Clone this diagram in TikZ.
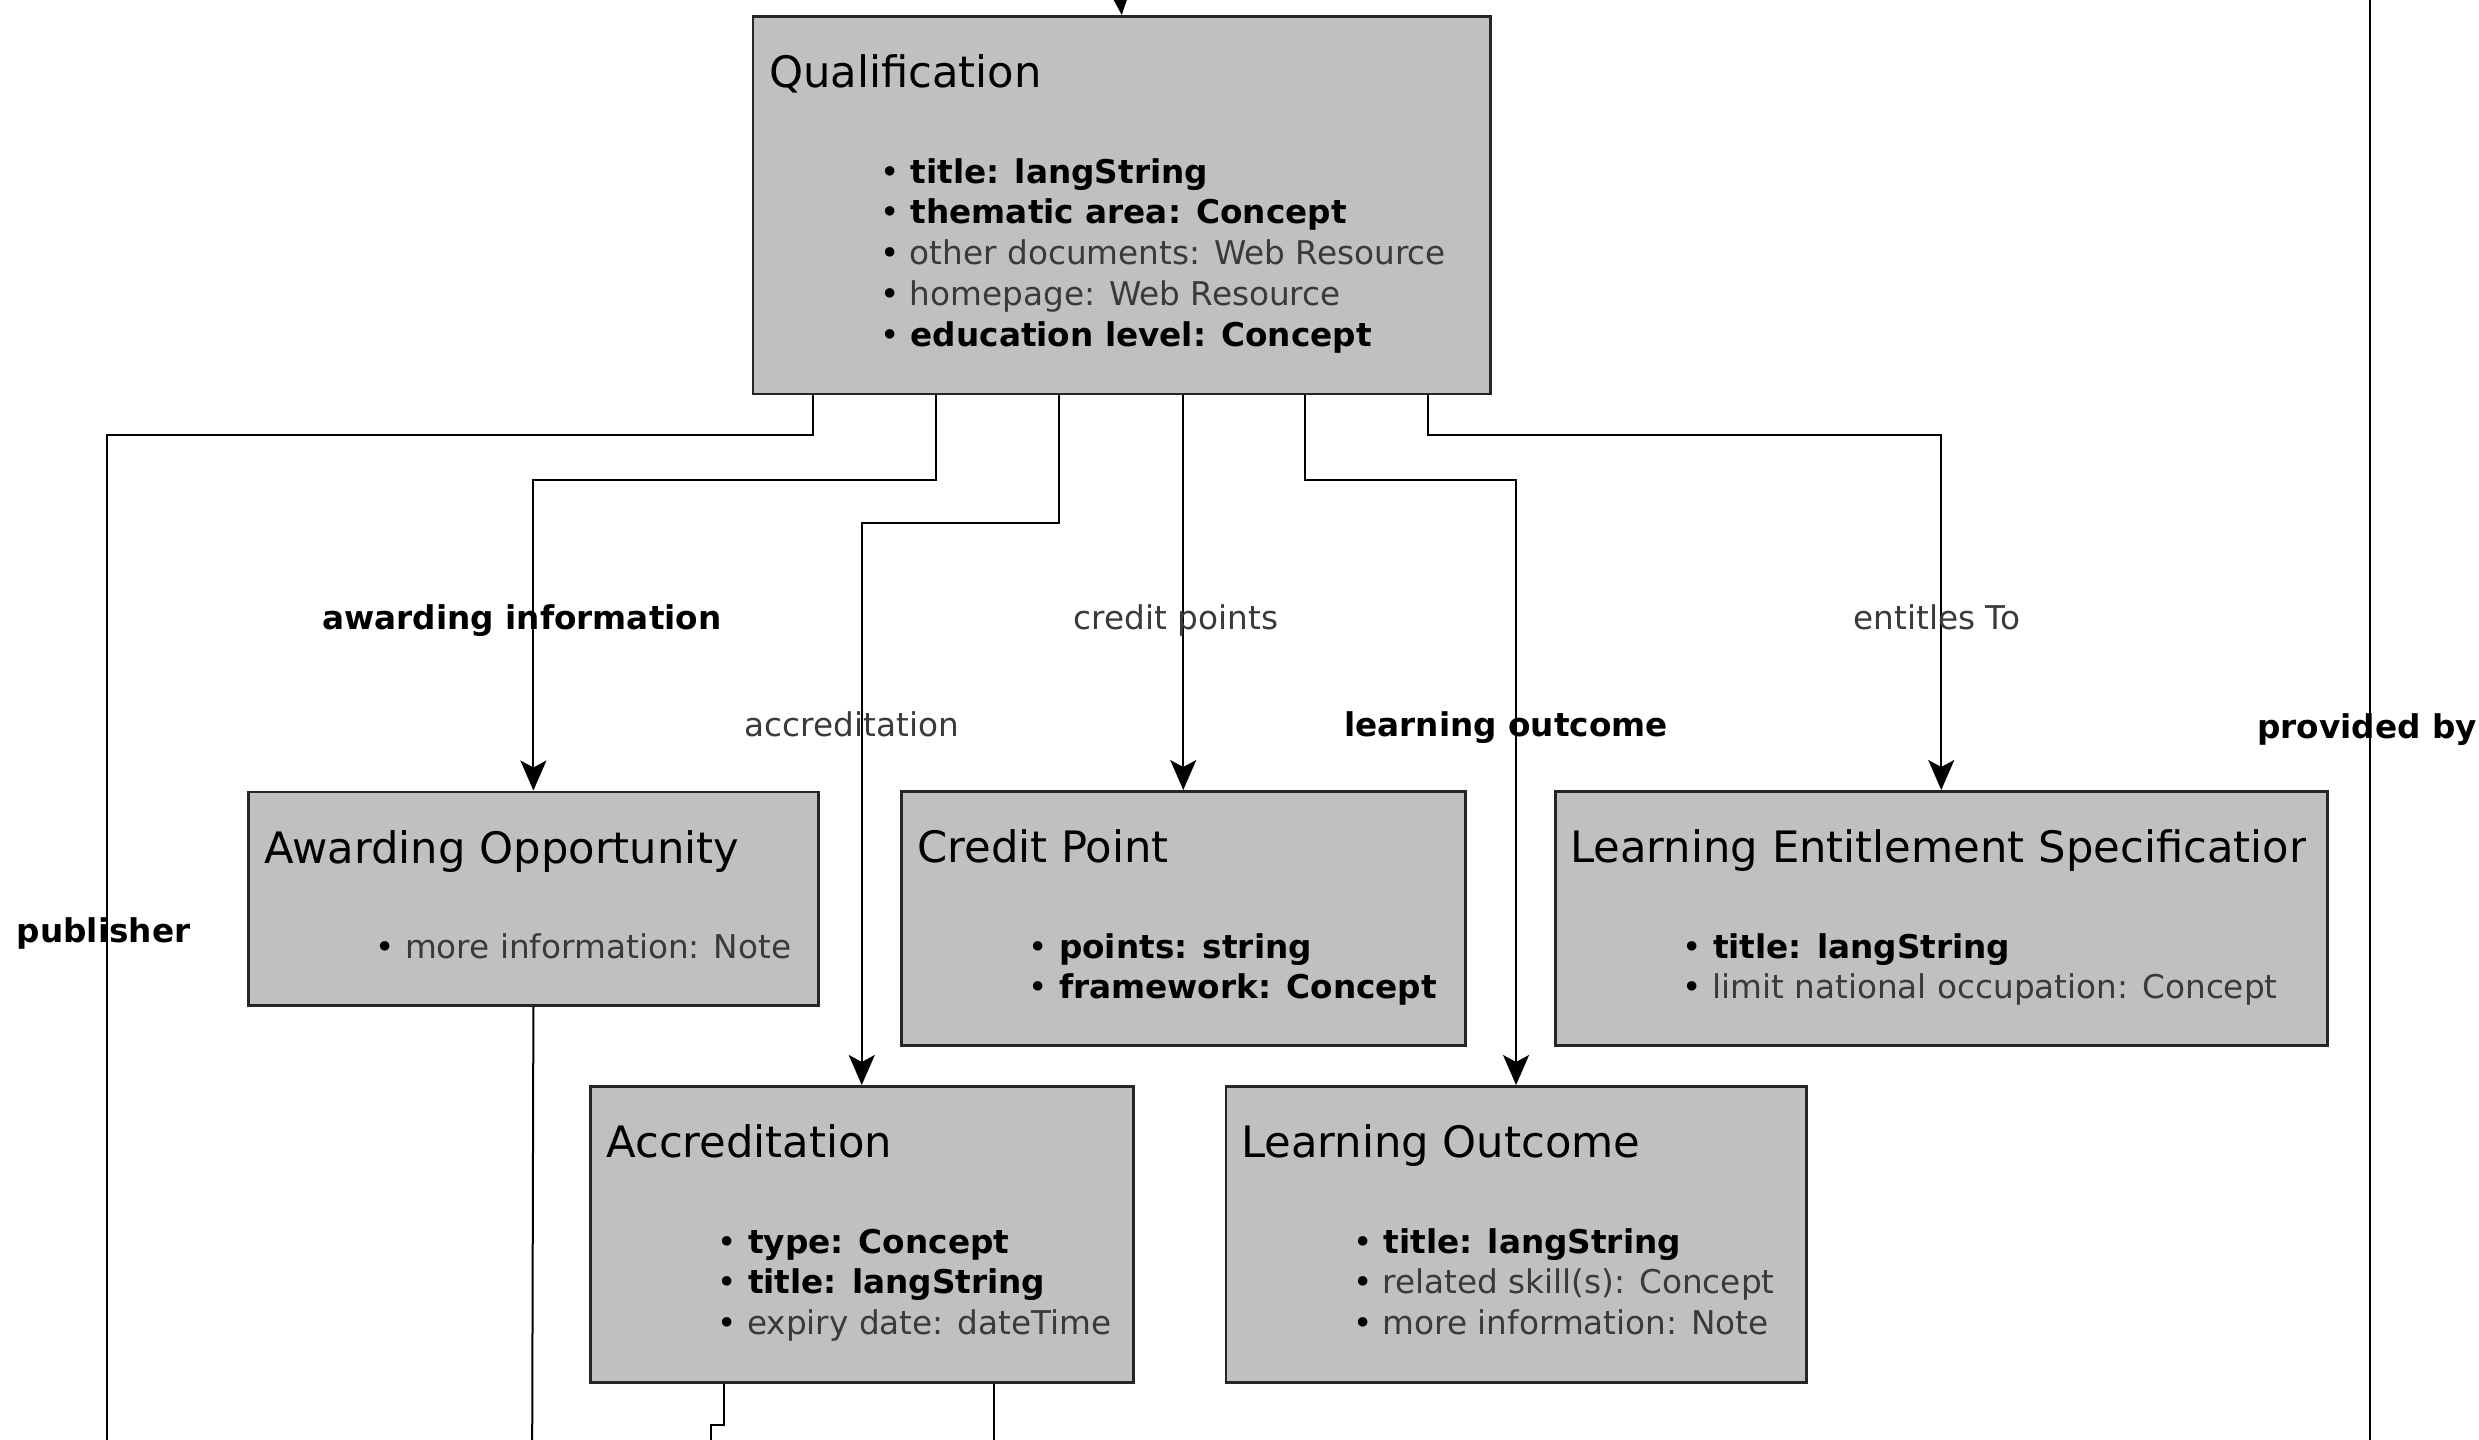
\documentclass[tikz,border=0pt]{standalone}
\usepackage{fontspec}
\setmainfont{DejaVu Sans}
\usetikzlibrary{arrows.meta,calc}
\definecolor{boxfill}{HTML}{C0C0C0}
\definecolor{txtgray}{HTML}{3A3A3A}
\newcommand{\bul}{{\color{black}\mdseries •}\ }
\begin{document}
\begin{tikzpicture}[x=0.5pt,y=-0.5pt,
  box/.style={draw=black!85, line width=1.25pt, fill=boxfill, anchor=north west, inner sep=0pt},
  ttl/.style={anchor=west, inner sep=0pt, font=\fontsize{21.65}{26}\selectfont, text=black, text height=0.76em, text depth=0.24em},
  itm/.style={anchor=west, inner sep=0pt, font=\fontsize{16.35}{20}\selectfont, text=txtgray, text height=0.76em, text depth=0.24em},
  itmb/.style={itm, text=black, font=\fontsize{16.35}{20}\selectfont\bfseries},
  conn/.style={draw=black, line width=1pt},
  arr/.style={conn, -{Stealth[length=15pt,width=13pt,inset=3.5pt]}},
  lbl/.style={inner sep=0pt, font=\fontsize{16.35}{20}\selectfont, text=txtgray, text height=0.76em, text depth=0.24em},
  lblb/.style={lbl, text=black, font=\fontsize{16.35}{20}\selectfont\bfseries},
]
\fill[white] (0,0) rectangle (2479,1440);
\useasboundingbox (0,0) rectangle (2479,1440);

% ---------- boxes ----------
\node[box, minimum width=368.8pt, minimum height=188.85pt] (qual) at (751.7,15) {};
\node[box, minimum width=285.15pt, minimum height=106.75pt] (award) at (247,790.5) {};
\node[box, minimum width=282pt, minimum height=127pt] (credit) at (900,790) {};
\node[box, minimum width=386pt, minimum height=127pt] (les) at (1554,790) {};
\node[box, minimum width=271.5pt, minimum height=148pt] (accred) at (589,1085) {};
\node[box, minimum width=290.2pt, minimum height=148pt] (lo) at (1224.6,1085) {};

% ---------- box texts ----------
\node[ttl] (qualT) at ($(qual.north west)+(17,67.5)$) {Qualification};
\node[itmb] (qual1) at ($(qual.north west)+(128,163)$) {\bul title: langString};
\node[itmb] (qual2) at ($(qual.north west)+(128,203.7)$) {\bul thematic area: Concept};
\node[itm]  (qual3) at ($(qual.north west)+(128,244.4)$) {\bul other documents: Web Resource};
\node[itm]  (qual4) at ($(qual.north west)+(128,285.1)$) {\bul homepage: Web Resource};
\node[itmb] (qual5) at ($(qual.north west)+(128,325.8)$) {\bul education level: Concept};

\node[ttl] (awardT) at ($(award.north west)+(17,67.5)$) {Awarding Opportunity};
\node[itm] (award1) at ($(award.north west)+(128,163)$) {\bul more information: Note};

\node[ttl] (creditT) at ($(credit.north west)+(17,67.5)$) {Credit Point};
\node[itmb] (credit1) at ($(credit.north west)+(128,163)$) {\bul points: string};
\node[itmb] (credit2) at ($(credit.north west)+(128,203.7)$) {\bul framework: Concept};

\begin{scope}
\clip ($(les.north west)+(2,2)$) rectangle ($(les.north west)+(751,120)$);
\node[ttl] (lesT) at ($(les.north west)+(16,67.5)$) {Learning Entitlement Specification};
\end{scope}
\node[itmb] (les1) at ($(les.north west)+(128,163)$) {\bul title: langString};
\node[itm]  (les2) at ($(les.north west)+(128,203.7)$) {\bul limit national occupation: Concept};

\node[ttl] (accredT) at ($(accred.north west)+(17,67.5)$) {Accreditation};
\node[itmb] (accred1) at ($(accred.north west)+(128,163)$) {\bul type: Concept};
\node[itmb] (accred2) at ($(accred.north west)+(128,203.7)$) {\bul title: langString};
\node[itm]  (accred3) at ($(accred.north west)+(128,244.4)$) {\bul expiry date: dateTime};

\node[ttl] (loT) at ($(lo.north west)+(16,67.5)$) {Learning Outcome};
\node[itmb] (lo1) at ($(lo.north west)+(128,163)$) {\bul title: langString};
\node[itm]  (lo2) at ($(lo.north west)+(128,203.7)$) {\bul related skill(s): Concept};
\node[itm]  (lo3) at ($(lo.north west)+(128,244.4)$) {\bul more information: Note};

% ---------- free ends ----------
\coordinate (topIn) at (1120.5,0);
\coordinate (pubEnd) at (107,1440);
\coordinate (pbTop) at (2370,0);
\coordinate (pbBot) at (2370,1440);
\coordinate (awEnd) at (532.2,1440);
\coordinate (acEndA) at (711,1440);
\coordinate (acEndB) at (994,1440);

% ---------- connectors ----------
\draw[arr] (topIn) -- (qual.north);
\draw[conn] ($(qual.south west)+(61.5,0)$) -- ++(0,40) -| (pubEnd);
\draw[arr] ($(qual.south west)+(184.4,0)$) -- ++(0,84.3) -| (award.north);
\draw[arr] ($(qual.south west)+(307.3,0)$) -- ++(0,127.3) -| (accred.north);
\draw[arr] (credit.north |- qual.south) -- (credit.north);
\draw[arr] ($(qual.south west)+(553.2,0)$) -- ++(0,84.3) -| (lo.north);
\draw[arr] ($(qual.south west)+(676.1,0)$) -- ++(0,40) -| (les.north);
\draw[conn] (pbTop) -- (pbBot);
\draw[conn] (award.south) -- (awEnd);
\draw[conn] ($(accred.south west)+(135,0)$) -- ++(0,41) -| (acEndA);
\draw[conn] ($(accred.south west)+(405,0)$) -- (acEndB);

% ---------- connector labels ----------
\node[lblb] (labAw) at (522,624) {awarding information};
\node[lbl]  (labAc) at (852,731) {accreditation};
\node[lbl]  (labCp) at (1176,624) {credit points};
\node[lblb] (labLo) at (1506,731) {learning outcome};
\node[lbl]  (labEn) at (1937,624) {entitles To};
\node[lblb, anchor=west] (labPb) at (2257,733) {provided by};
\node[lblb] (labPu) at (103.6,937.5) {publisher};
\end{tikzpicture}
\end{document}
